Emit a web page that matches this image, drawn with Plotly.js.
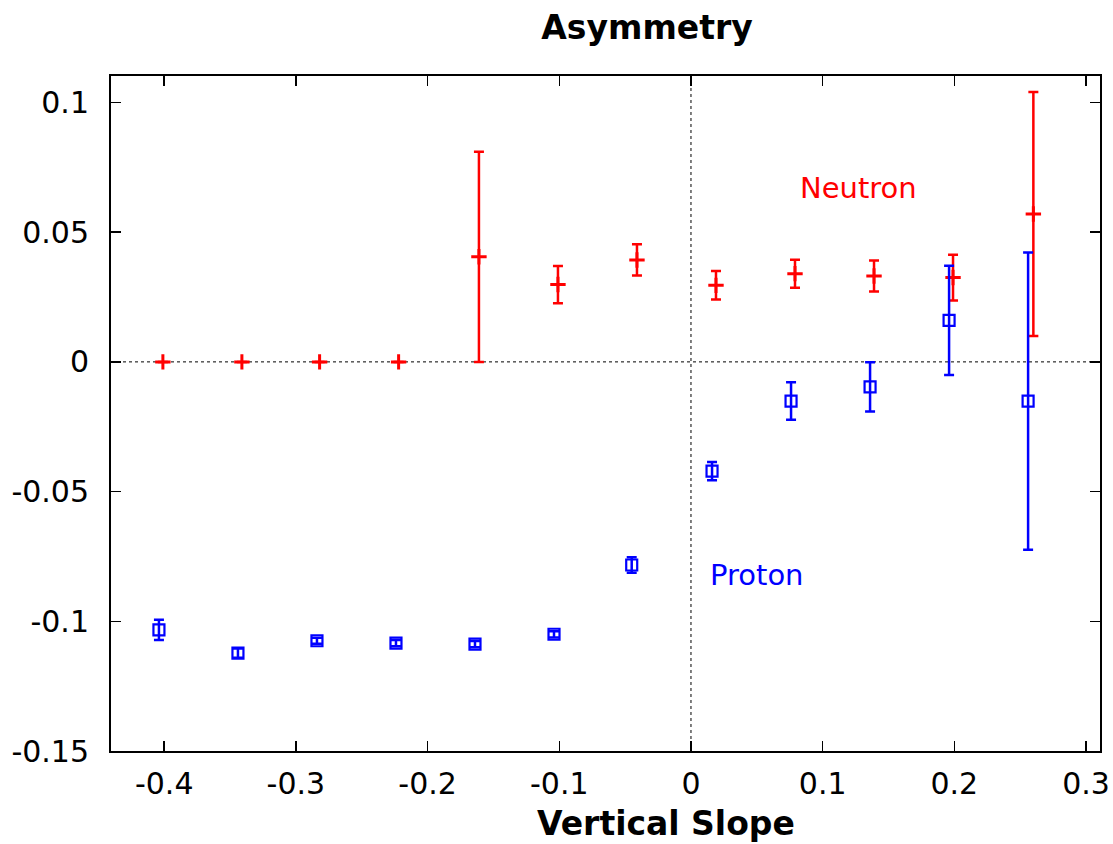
<!DOCTYPE html>
<html>
<head>
<meta charset="utf-8">
<script src="https://cdn.plot.ly/plotly-3.0.1.min.js"></script>
<style>html,body{margin:0;padding:0;background:#fff;}#chart{width:1113px;height:844px;}</style>
</head>
<body>
<div id="chart"></div>
<script>
const neutronX   = [-0.401, -0.341, -0.282, -0.222, -0.161, -0.101, -0.041, 0.019, 0.079, 0.139, 0.199, 0.260];
const neutronY   = [0, 0, 0, 0, 0.0405, 0.0298, 0.0393, 0.0295, 0.0340, 0.0331, 0.0325, 0.0570];
const neutronErr = [0, 0, 0, 0, 0.0405, 0.0072, 0.0060, 0.0055, 0.0054, 0.0060, 0.0088, 0.0470];

const protonX   = [-0.404, -0.344, -0.284, -0.224, -0.164, -0.104, -0.045, 0.016, 0.076, 0.136, 0.196, 0.256];
const protonY   = [-0.1033, -0.1123, -0.1075, -0.1084, -0.1088, -0.1050, -0.0783, -0.0421, -0.0151, -0.0096, 0.0160, -0.0151];
const protonErr = [0.0039, 0.0018, 0.0012, 0.0012, 0.0012, 0.0012, 0.0030, 0.0035, 0.0072, 0.0095, 0.0211, 0.0573];

const xTickVals = [-0.4, -0.3, -0.2, -0.1, 0, 0.1, 0.2, 0.3];
const xTickText = ["-0.4", "-0.3", "-0.2", "-0.1", "0", "0.1", "0.2", "0.3"];
const yTickVals = [-0.15, -0.1, -0.05, 0, 0.05, 0.1];
const yTickText = ["-0.15", "-0.1", "-0.05", "0", "0.05", "0.1"];

const RED = "#ff0000", BLUE = "#0000ff";
const FONT = "DejaVu Sans, Liberation Sans, Arial, sans-serif";

const traces = [
  {
    x: neutronX, y: neutronY, type: "scatter", mode: "markers", name: "Neutron",
    marker: {symbol: "cross-thin", size: 11, color: RED, line: {color: RED, width: 3}},
    error_y: {type: "data", array: neutronErr, visible: true, color: RED, thickness: 2.5, width: 5}
  },
  {
    x: protonX, y: protonY, type: "scatter", mode: "markers", name: "Proton",
    marker: {symbol: "square-open", size: 11, color: BLUE, line: {color: BLUE, width: 2.2}},
    error_y: {type: "data", array: protonErr, visible: true, color: BLUE, thickness: 2.5, width: 5}
  }
];

const axisCommon = {
  showgrid: false, zeroline: false, showline: true, linecolor: "#000", linewidth: 2,
  mirror: "ticks", ticks: "inside", ticklen: 10, tickwidth: 1.5, tickcolor: "#000",
  tickfont: {family: FONT, size: 30, color: "#000"}
};

const layout = {
  width: 1113, height: 844,
  margin: {l: 111, r: 13, t: 76, b: 93},
  paper_bgcolor: "#fff", plot_bgcolor: "#fff",
  showlegend: false,
  title: {text: "<b>Asymmetry</b>", x: 647/1113, xanchor: "center", y: 1 - 27/844, yanchor: "middle",
          font: {family: FONT, size: 33, color: "#000"}},
  xaxis: Object.assign({}, axisCommon, {range: [-0.4404, 0.3106], tickvals: xTickVals, ticktext: xTickText, ticklabelstandoff: 5}),
  yaxis: Object.assign({}, axisCommon, {range: [-0.15, 0.1102], tickvals: yTickVals, ticktext: yTickText, ticklabelstandoff: 14}),
  shapes: [
    {type: "line", xref: "paper", x0: 0, x1: 1, yref: "y", y0: 0, y1: 0, line: {color: "#000", width: 1, dash: "dot"}, layer: "below"},
    {type: "line", yref: "paper", y0: 0, y1: 1, xref: "x", x0: 0, x1: 0, line: {color: "#000", width: 1, dash: "dot"}, layer: "below"}
  ],
  annotations: [
    {text: "<b>Vertical Slope</b>", xref: "paper", yref: "paper", x: (666-111)/989, y: -72/675, xanchor: "center", yanchor: "middle",
     showarrow: false, font: {family: FONT, size: 33, color: "#000"}},
    {text: "Neutron", xref: "x", yref: "y", x: 0.127, y: 0.0672, xanchor: "center", yanchor: "middle",
     showarrow: false, font: {family: FONT, size: 29, color: RED}},
    {text: "Proton", xref: "x", yref: "y", x: 0.0505, y: -0.0822, xanchor: "center", yanchor: "middle",
     showarrow: false, font: {family: FONT, size: 29, color: BLUE}}
  ]
};

Plotly.newPlot("chart", traces, layout, {displayModeBar: false, staticPlot: true});
</script>
</body>
</html>
